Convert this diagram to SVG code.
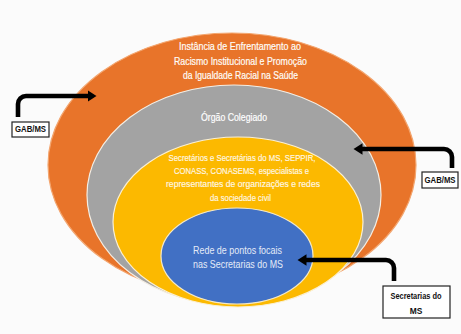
<svg xmlns="http://www.w3.org/2000/svg" width="461" height="334" viewBox="0 0 461 334">
  <style>
    .t { font-family: "Liberation Sans", Arial, sans-serif; text-anchor: middle; }
    .title { font-size: 10.2px; fill: #fffdf8; stroke: #fffdf8; stroke-width: 0.2; }
    .gray-t { font-size: 10.2px; fill: #ffffff; stroke: #ffffff; stroke-width: 0.2; }
    .gold-t { font-size: 9.4px; fill: #fff8e6; stroke: #fff8e6; stroke-width: 0.15; }
    .blue-t { font-size: 10.6px; fill: #e4ebf7; }
    .box { fill: #ffffff; stroke: #222222; stroke-width: 1.2; }
    .box-t { font-size: 8.4px; font-weight: bold; fill: #111111; }
    .ring { stroke-width: 1.2; }
    .conn { fill: none; stroke: #000000; stroke-width: 4.6; marker-end: url(#head); }
  </style>
  <defs>
    <marker id="head" markerUnits="userSpaceOnUse" viewBox="0 -6 10 12" refX="0.5" refY="0" markerWidth="10" markerHeight="12" orient="auto">
      <path d="M0,-5.8 L9,0 L0,5.8 Z" fill="#000000"/>
    </marker>
  </defs>

  <rect x="0" y="0" width="461" height="334" fill="#fbfbfb"/>

  <!-- outer layer -->
  <g id="instancia">
    <ellipse class="ring" cx="232" cy="165" rx="184" ry="132" fill="#e8742a" stroke="#f3a56e"/>
    <text class="t title" x="240" y="49.5" textLength="122" lengthAdjust="spacingAndGlyphs">Instância de Enfrentamento ao</text>
    <text class="t title" x="240.5" y="64.5" textLength="133" lengthAdjust="spacingAndGlyphs">Racismo Institucional e Promoção</text>
    <text class="t title" x="240.5" y="78.5" textLength="115" lengthAdjust="spacingAndGlyphs">da Igualdade Racial na Saúde</text>
  </g>

  <!-- second layer -->
  <g id="orgao-colegiado">
    <ellipse class="ring" cx="234" cy="195" rx="147" ry="110" fill="#a3a3a3" stroke="#f4eee4"/>
    <text class="t gray-t" x="234" y="120.5" textLength="66" lengthAdjust="spacingAndGlyphs">Órgão Colegiado</text>
  </g>

  <!-- third layer -->
  <g id="membros">
    <ellipse class="ring" cx="238" cy="222" rx="125" ry="85" fill="#fcb900" stroke="#fbf0d2"/>
    <text class="t gold-t" x="242" y="160.5" textLength="147" lengthAdjust="spacingAndGlyphs">Secretários e Secretárias do MS, SEPPIR,</text>
    <text class="t gold-t" x="241.5" y="173.5" textLength="135" lengthAdjust="spacingAndGlyphs">CONASS, CONASEMS, especialistas e</text>
    <text class="t gold-t" x="243" y="187" textLength="154" lengthAdjust="spacingAndGlyphs">representantes de organizações e redes</text>
    <text class="t gold-t" x="240.5" y="200.5" textLength="61" lengthAdjust="spacingAndGlyphs">da sociedade civil</text>
  </g>

  <!-- inner core -->
  <g id="rede-pontos-focais">
    <ellipse class="ring" cx="237" cy="256" rx="76" ry="48" fill="#4170c4" stroke="#f1e8cc"/>
    <text class="t blue-t" x="237.5" y="253.5" textLength="89" lengthAdjust="spacingAndGlyphs">Rede de pontos focais</text>
    <text class="t blue-t" x="238" y="267.5" textLength="90" lengthAdjust="spacingAndGlyphs">nas Secretarias do MS</text>
  </g>

  <!-- source boxes -->
  <g id="gab-ms-left">
    <rect class="box" x="12" y="122" width="37" height="15"/>
    <text class="t box-t" x="30.5" y="132.3" textLength="31" lengthAdjust="spacingAndGlyphs">GAB/MS</text>
  </g>
  <g id="gab-ms-right">
    <rect class="box" x="422" y="172" width="36" height="16"/>
    <text class="t box-t" x="440" y="183" textLength="31" lengthAdjust="spacingAndGlyphs">GAB/MS</text>
  </g>
  <g id="secretarias-ms">
    <rect class="box" x="383" y="286" width="67" height="32"/>
    <text class="t box-t" x="416" y="299" textLength="51" lengthAdjust="spacingAndGlyphs">Secretarias do</text>
    <text class="t box-t" x="416" y="314">MS</text>
  </g>

  <!-- connectors -->
  <g id="connectors">
    <path class="conn" d="M18,117 V104 A8,8 0 0 1 26,96 H88"/>
    <path class="conn" d="M452,168 V157 A8,8 0 0 0 444,149 H362"/>
    <path class="conn" d="M394,281 V268 A8,8 0 0 0 386,260 H306"/>
  </g>
</svg>
